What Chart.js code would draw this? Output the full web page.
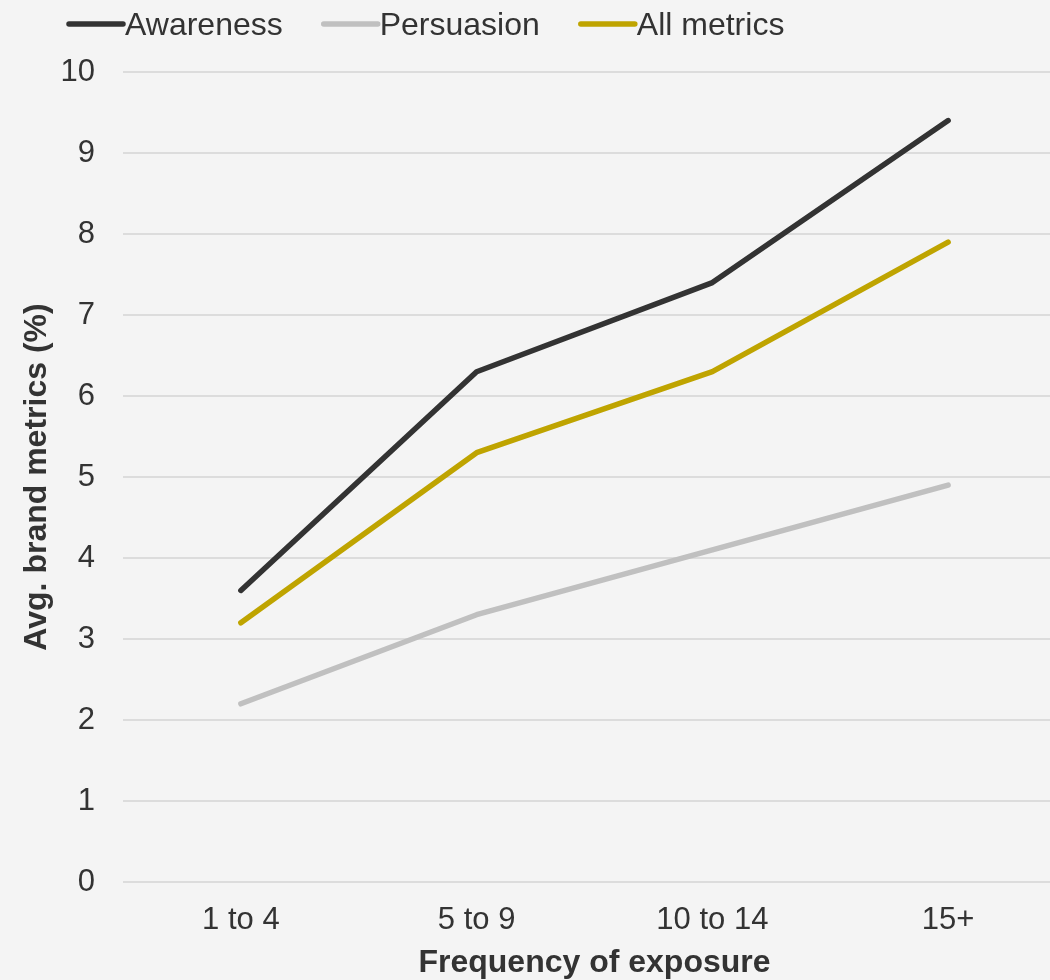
<!DOCTYPE html>
<html>
<head>
<meta charset="utf-8">
<script src="https://cdn.jsdelivr.net/npm/chart.js@4/dist/chart.umd.min.js"></script>
<style>
  html, body { margin: 0; padding: 0; background: #f4f4f4; overflow: hidden; }
  #wrap { width: 1066px; height: 980px; }
</style>
</head>
<body>
<div id="wrap"><canvas id="c" width="1066" height="980"></canvas></div>
<script>
const categories = ['1 to 4', '5 to 9', '10 to 14', '15+'];
const awareness = [3.6, 6.3, 7.4, 9.4];
const persuasion = [2.2, 3.3, 4.1, 4.9];
const allMetrics = [3.2, 5.3, 6.3, 7.9];
const seriesNames = ['Awareness', 'Persuasion', 'All metrics'];
const yTicks = [0, 1, 2, 3, 4, 5, 6, 7, 8, 9, 10];

const FONT = '"Liberation Sans", Arial, sans-serif';
const TEXT = '#333333';

// Legend row: a short rounded line swatch immediately followed by the label
const lineLegend = {
  id: 'lineLegend',
  afterDraw(chart) {
    const ctx = chart.ctx;
    ctx.save();
    ctx.font = '32px ' + FONT;
    ctx.textBaseline = 'middle';
    ctx.textAlign = 'left';
    let x = 67;
    const y = 24;
    chart.data.datasets.forEach(ds => {
      ctx.strokeStyle = ds.borderColor;
      ctx.lineWidth = 5.5;
      ctx.lineCap = 'round';
      ctx.beginPath();
      ctx.moveTo(x + 2, y);
      ctx.lineTo(x + 56, y);
      ctx.stroke();
      ctx.fillStyle = TEXT;
      ctx.fillText(ds.label, x + 58, y + 2);
      x += 58 + ctx.measureText(ds.label).width + 39;
    });
    ctx.restore();
  }
};

const mk = (label, data, color) => ({
  label, data,
  borderColor: color,
  backgroundColor: color,
  borderWidth: 5.5,
  borderCapStyle: 'round',
  borderJoinStyle: 'round',
  pointRadius: 0,
  pointHoverRadius: 0,
  tension: 0,
  fill: false
});

new Chart(document.getElementById('c'), {
  type: 'line',
  data: {
    labels: categories,
    datasets: [
      mk(seriesNames[0], awareness, '#333333'),
      mk(seriesNames[1], persuasion, '#c0c0c0'),
      mk(seriesNames[2], allMetrics, '#bfa400')
    ]
  },
  options: {
    responsive: false,
    animation: false,
    devicePixelRatio: 1,
    layout: { padding: { top: 72, right: 0, bottom: 0, left: 0 } },
    plugins: {
      legend: { display: false },
      tooltip: { enabled: false }
    },
    scales: {
      x: {
        offset: true,
        grid: { display: false, drawTicks: false },
        border: { display: false },
        ticks: { color: TEXT, font: { family: FONT, size: 31 }, padding: 20 },
        title: {
          display: true,
          text: 'Frequency of exposure',
          color: TEXT,
          font: { family: FONT, size: 32, weight: 'bold', lineHeight: 1.05 },
          padding: { top: 0, bottom: 0 }
        },
        afterFit(scale) { scale.height = 98; }
      },
      y: {
        min: 0,
        max: 10,
        afterBuildTicks(scale) { scale.ticks = yTicks.map(v => ({ value: v })); },
        grid: { color: '#dcdcdc', lineWidth: 2, drawTicks: false },
        border: { display: false },
        ticks: { color: TEXT, font: { family: FONT, size: 31 }, padding: 28 },
        title: {
          display: true,
          text: 'Avg. brand metrics (%)',
          color: TEXT,
          font: { family: FONT, size: 32, weight: 'bold', lineHeight: 1.05 },
          padding: { top: 20, bottom: 0 }
        },
        afterFit(scale) { scale.width = 123; }
      }
    }
  },
  plugins: [lineLegend]
});
</script>
</body>
</html>
